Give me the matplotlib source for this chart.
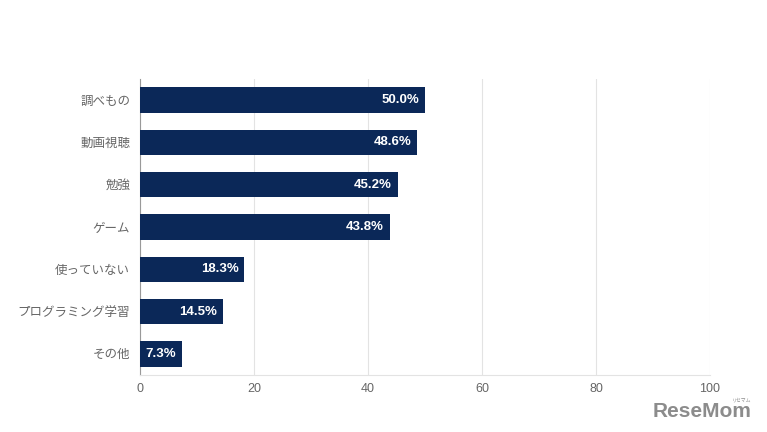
import matplotlib
matplotlib.use("Agg")
import matplotlib.pyplot as plt

plt.rcParams['font.family'] = ['Liberation Sans', 'Noto Sans CJK JP', 'DejaVu Sans']

# ======== Dados =========
categorias = ["調べもの", "動画視聴", "勉強", "ゲーム", "使っていない", "プログラミング学習", "その他"]
valores = [50.0, 48.6, 45.2, 43.8, 18.3, 14.5, 7.3]
ticks_x = [0, 20, 40, 60, 80, 100]

cor_barra = "#0b2858"
cor_texto = "#666666"

fig = plt.figure(figsize=(7.67, 4.32), dpi=100)
ax = fig.add_axes([140 / 767, 1 - 375 / 432, 570 / 767, 296 / 432])

pos = list(range(len(categorias)))
ax.barh(pos, valores, height=0.6, color=cor_barra, zorder=3)

# rótulos dentro das barras
for p, v in zip(pos, valores):
    ax.text(v - 1.0, p, f"{v:.1f}%", ha="right", va="center",
            color="white", fontsize=9.5, fontweight="bold", zorder=4)

ax.set_xlim(0, 100)
ax.set_ylim(len(categorias) - 0.5, -0.5)
ax.set_xticks(ticks_x)
ax.set_xticklabels([str(t) for t in ticks_x])
ax.set_yticks(pos)
ax.set_yticklabels(categorias)

ax.tick_params(axis="both", length=0, colors=cor_texto, labelsize=9)
ax.tick_params(axis="y", pad=7)
ax.tick_params(axis="x", pad=6)

ax.grid(axis="x", color="#e3e3e3", linewidth=0.8, zorder=0)
for lado in ["top", "right"]:
    ax.spines[lado].set_visible(False)
ax.spines["bottom"].set_color("#e3e3e3")
ax.spines["left"].set_color("#999999")
ax.spines["left"].set_linewidth(0.8)

# marca d'água
fig.text(752 / 767, 1 - 421 / 432, "ReseMom", ha="right", va="bottom", fontsize=15,
         fontweight="bold", color="#8c8c8c")
fig.text(751 / 767, 1 - 402 / 432, "リセマム", ha="right", va="bottom", fontsize=3.5,
         color="#8c8c8c")

fig.savefig("out.png", dpi=100)
